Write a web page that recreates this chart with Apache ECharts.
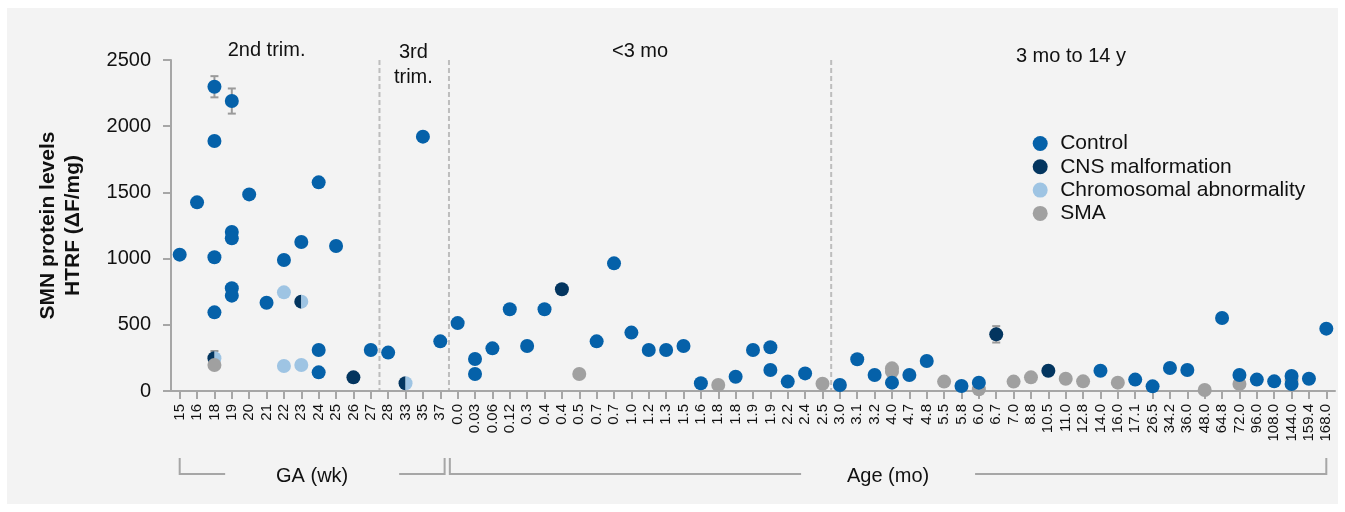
<!DOCTYPE html>
<html>
<head>
<meta charset="utf-8">
<script src="https://cdn.jsdelivr.net/npm/echarts@6/dist/echarts.min.js"></script>
<style>
html,body{margin:0;padding:0;background:#ffffff;}
#bg{position:absolute;left:7px;top:8px;width:1331px;height:496px;background:#f3f3f3;}
#c{position:absolute;left:0;top:0;width:1345px;height:512px;}
</style>
</head>
<body>
<div id="bg"></div>
<div id="c"></div>
<script>
// ---- categories (x tick labels): GA in weeks, then age in months ----
const categories = ['15','16','18','19','20','21','22','23','24','25','26','27','28','33','35','37',
  '0.0','0.03','0.06','0.12','0.3','0.4','0.4','0.5','0.7','0.7','1.0','1.2','1.3','1.5','1.6','1.8','1.8','1.9','1.9','2.2','2.4','2.5',
  '3.0','3.1','3.2','4.0','4.7','4.8','5.5','5.8','6.0','6.7','7.0','8.8','10.5','11.0','12.8','14.0','16.0','17.1','26.5','34.2','36.0','48.0','64.8','72.0','96.0','108.0','144.0','159.4','168.0'];

// ---- series values: [category index, SMN level] ----
const controlData = [[0,1030],[1,1425],[2,2298],[2,1888],[2,1010],[2,594],[3,2190],[3,1201],[3,1153],[3,776],[3,720],
  [4,1485],[5,667],[6,989],[7,1125],[8,1576],[8,310],[8,141],[9,1095],[11,310],[12,290],[14,1921],[15,375],
  [16,513],[17,242],[17,128],[18,322],[19,617],[20,340],[21,617],[24,375],[25,964],[26,441],[27,310],[28,310],[29,340],
  [30,58],[32,108],[33,310],[34,330],[34,159],[35,71],[36,133],[38,45],[39,240],[40,121],[41,63],[42,121],[43,227],
  [45,38],[46,63],[53,153],[55,86],[56,35],[57,174],[58,159],[60,551],[61,121],[62,86],[63,73],[64,113],[64,53],[65,93],[66,471]];
const cnsData = [[10,103],[22,768],[47,428],[50,153]];
const chromData = [[6,745],[6,189],[7,196]];
const cnsChromData = [[2,247],[7,675],[13,58]];   // samples with both CNS malformation and chromosomal abnormality
const smaData = [[2,196],[23,128],[31,45],[37,55],[41,171],[41,146],[44,71],[46,13],[48,71],[49,103],[51,93],[52,73],[54,63],[59,8],[61,53],[64,83]];
// error bars: [category index, mean, error]
const errorBars = [[2,2298,80],[3,2190,95],[2,247,55],[47,428,62]];

// ---- annotations ----
const yTicks = [0, 500, 1000, 1500, 2000, 2500];
const separatorsAt = [11.5, 15.5, 37.5];
const periodLabels = ['2nd trim.', '3rd\ntrim.', '<3 mo', '3 mo to 14 y'];
const periodLabelAt = [5, 13.45, 26.5, 51.3];
const bracketLabels = ['GA (wk)', 'Age (mo)'];
const bracketRanges = [[0, 15.25], [15.55, 66]];

const FONT = "'Liberation Sans', Arial, Helvetica, sans-serif";
const C_CONTROL = '#0561A9', C_CNS = '#03355F', C_CHROM = '#9EC4E3', C_SMA = '#A0A0A0';
const AXIS = '#a6a6a6';

const chart = echarts.init(document.getElementById('c'), null, {renderer: 'canvas'});

const leftHalf = 'path://M10,0 A10,10 0 0 0 10,20 Z';
const rightHalf = 'path://M0,0 A10,10 0 0 1 0,20 Z';

// fractional category position -> pixel x, via the category axis
function catX(api, v) {
  const x0 = api.coord([0, 0])[0];
  const band = api.size([1, 0])[0];
  return x0 + v * band;
}

const dot = (color) => ({color: color, opacity: 1});

chart.setOption({
  animation: false,
  backgroundColor: 'transparent',
  textStyle: {fontFamily: FONT},
  grid: {left: 171, right: 10, top: 60, bottom: 121, containLabel: false},
  legend: {
    orient: 'vertical', left: 1027.7, top: 128, itemWidth: 30, itemHeight: 15, itemGap: 2.3,
    icon: 'circle',
    data: ['Control', 'CNS malformation', 'Chromosomal abnormality', 'SMA'],
    itemStyle: {opacity: 1},
    textStyle: {fontSize: 21, lineHeight: 21, color: '#111', fontFamily: FONT}
  },
  xAxis: {
    type: 'category', data: categories, boundaryGap: true,
    axisLine: {show: true, onZero: false, lineStyle: {color: AXIS, width: 2}},
    axisTick: {show: true, alignWithLabel: true, interval: 0, length: 8, lineStyle: {color: AXIS, width: 2}},
    axisLabel: {rotate: 90, interval: 0, fontSize: 15, color: '#111', margin: 13, fontFamily: FONT},
    splitLine: {show: false}
  },
  yAxis: {
    type: 'value', min: yTicks[0], max: yTicks[yTicks.length - 1], interval: 500,
    name: 'SMN protein levels\nHTRF (\u0394F/mg)', nameLocation: 'middle', nameGap: 85,
    nameTextStyle: {fontWeight: 'bold', fontSize: 21, lineHeight: 25, color: '#111', fontFamily: FONT},
    axisLine: {show: true, onZero: false, lineStyle: {color: AXIS, width: 2}},
    axisTick: {show: true, length: 8, lineStyle: {color: AXIS, width: 2}},
    axisLabel: {fontSize: 20, color: '#111', margin: 20, fontFamily: FONT, formatter: (v) => String(v)},
    splitLine: {show: false}
  },
  series: [
    {
      type: 'custom', name: 'separators', z: 0, silent: true,
      data: separatorsAt.map(v => [0, 0, v]), encode: {x: 0, y: 1},
      renderItem: function (params, api) {
        const x = catX(api, api.value(2));
        const cs = params.coordSys;
        return {type: 'line', shape: {x1: x, y1: cs.y, x2: x, y2: cs.y + cs.height},
          style: {stroke: '#bdbdbd', lineWidth: 2, lineDash: [5, 3]}};
      }
    },
    {
      type: 'custom', name: 'periods', z: 0, silent: true,
      data: periodLabelAt.map((v, i) => [0, 0, v, i]), encode: {x: 0, y: 1},
      renderItem: function (params, api) {
        const i = api.value(3);
        const x = catX(api, api.value(2));
        const cs = params.coordSys;
        const yc = [cs.y - 10, cs.y + 4.5, cs.y - 9, cs.y - 4][i];
        return {type: 'text', x: x, y: yc,
          style: {text: periodLabels[i], fill: '#111', font: '20px ' + FONT, lineHeight: 25,
            align: 'center', verticalAlign: 'middle'}};
      }
    },
    {
      type: 'custom', name: 'brackets', z: 0, silent: true,
      data: bracketRanges.map((r, i) => [0, 0, r[0], r[1], i]), encode: {x: 0, y: 1},
      renderItem: function (params, api) {
        const i = api.value(4);
        const L = catX(api, api.value(2));
        const R = catX(api, api.value(3));
        const cs = params.coordSys;
        const yb = cs.y + cs.height;
        const top = yb + 67, bot = yb + 83;
        const mid = (L + R) / 2, g = 87;
        const ls = {stroke: AXIS, lineWidth: 2, fill: null};
        return {type: 'group', children: [
          {type: 'polyline', shape: {points: [[L, top], [L, bot], [mid - g, bot]]}, style: ls},
          {type: 'polyline', shape: {points: [[mid + g, bot], [R, bot], [R, top]]}, style: ls},
          {type: 'text', x: mid, y: bot + 2, style: {text: bracketLabels[i], fill: '#111', font: '20px ' + FONT,
            align: 'center', verticalAlign: 'middle'}}
        ]};
      }
    },
    {
      type: 'custom', name: 'errorbars', z: 1, silent: true,
      data: errorBars, encode: {x: 0, y: 1},
      renderItem: function (params, api) {
        const idx = api.value(0), m = api.value(1), e = api.value(2);
        const p = api.coord([idx, m + e]);
        const q = api.coord([idx, m - e]);
        const hw = 4;
        const st = {stroke: '#9a9a9a', lineWidth: 2};
        return {type: 'group', children: [
          {type: 'line', shape: {x1: p[0], y1: p[1], x2: q[0], y2: q[1]}, style: st},
          {type: 'line', shape: {x1: p[0] - hw, y1: p[1], x2: p[0] + hw, y2: p[1]}, style: st},
          {type: 'line', shape: {x1: q[0] - hw, y1: q[1], x2: q[0] + hw, y2: q[1]}, style: st}
        ]};
      }
    },
    {type: 'scatter', name: 'CNS half', z: 2, data: cnsChromData, symbol: leftHalf, symbolSize: [7, 14],
      symbolOffset: [-3.5, 0], itemStyle: dot(C_CNS)},
    {type: 'scatter', name: 'Chrom half', z: 2, data: cnsChromData, symbol: rightHalf, symbolSize: [7, 14],
      symbolOffset: [3.5, 0], itemStyle: dot(C_CHROM)},
    {type: 'scatter', name: 'SMA', z: 3, data: smaData, symbol: 'circle', symbolSize: 14, itemStyle: dot(C_SMA)},
    {type: 'scatter', name: 'Control', z: 4, data: controlData, symbol: 'circle', symbolSize: 14, itemStyle: dot(C_CONTROL)},
    {type: 'scatter', name: 'CNS malformation', z: 4, data: cnsData, symbol: 'circle', symbolSize: 14, itemStyle: dot(C_CNS)},
    {type: 'scatter', name: 'Chromosomal abnormality', z: 4, data: chromData, symbol: 'circle', symbolSize: 14, itemStyle: dot(C_CHROM)}
  ]
});
</script>
</body>
</html>
